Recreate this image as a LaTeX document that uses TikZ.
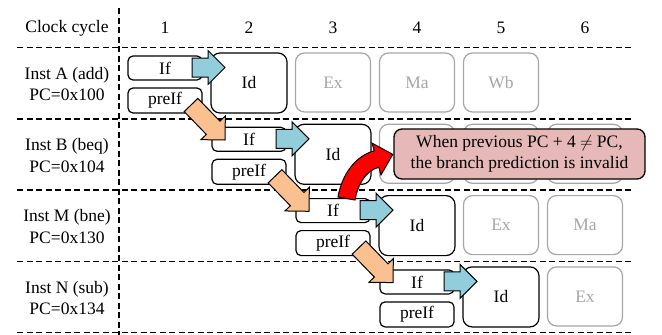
\documentclass[tikz,border=0pt]{standalone}
\usepackage{fontspec}
\setmainfont{Liberation Serif}[Ligatures=TeX]
\usetikzlibrary{calc}
\definecolor{arrblue}{HTML}{92CDDC}
\definecolor{arrorange}{HTML}{FAC090}
\definecolor{callpink}{HTML}{E6B9B8}
\definecolor{stgray}{HTML}{A6A6A6}
\newcommand\blockarrow[3]{%
  \coordinate (#2base) at ($(#3)!17pt!(#2)$);
  \draw[blk, fill=#1] ($(#2)!9.5pt!90:(#3)$) -- ($(#2base)!9.5pt!90:(#3)$)
    -- ($(#2base)!17pt!90:(#3)$) -- (#3) -- ($(#2base)!17pt!-90:(#3)$)
    -- ($(#2base)!9.5pt!-90:(#3)$) -- ($(#2)!9.5pt!-90:(#3)$) -- cycle;}
\begin{document}
\begin{tikzpicture}[x=1pt,y=-1pt, font=\rmfamily\fontsize{17.5}{21.5}\selectfont,
 grid/.style={dash pattern=on 6pt off 3.5pt, line width=1.4pt},
 smallbox/.style={draw, line width=1.2pt, rounded corners=5pt, minimum width=74pt, minimum height=24pt, inner sep=0pt, fill=white},
 idbox/.style={draw, line width=1.2pt, rounded corners=9pt, minimum width=76pt, minimum height=60pt, inner sep=0pt, fill=white},
 graybox/.style={draw=stgray, text=stgray, line width=1.2pt, rounded corners=9pt, minimum width=75pt, minimum height=59pt, inner sep=0pt, fill=white},
 blk/.style={draw, line width=1pt, line join=miter},
 notebox/.style={draw, fill=callpink, line width=1.3pt, rounded corners=8pt, minimum width=251pt, minimum height=50pt, inner sep=0pt, align=center}]
\useasboundingbox (0,0) rectangle (662,335);
% grid
\draw[grid] (119,8) -- (119,335);
\foreach \y in {47.5,118.8,190.1,261.4,332.7} \draw[grid] (17,\y) -- (632,\y);
% header
\node (hdr) at (67,28) {Clock cycle};
\foreach \k in {1,...,6} \node (c\k) at (81+84*\k, 28) {\k};
% rows
\foreach \r/\lab/\pc in {0/A (add)/100,1/B (beq)/104,2/M (bne)/130,3/N (sub)/134}{
  \pgfmathsetmacro\off{71.3*\r}
  \pgfmathsetmacro\cx{165+84*\r}
  \pgfmathsetmacro\dx{249+84*\r}
  \node[align=center] (lab\r) at (67,84+\off) {Inst \lab\\PC=0x\pc};
  \node[smallbox] (if\r) at (\cx,68+\off) {If};
  \node[smallbox, minimum height=25pt] (pre\r) at (\cx,100.5+\off) {preIf};
  \node[idbox] (id\r) at (\dx,83+\off) {Id};
}
% gray stages
\node[graybox] (exA) at (333,82.5) {Ex};
\node[graybox] (maA) at (417,82.5) {Ma};
\node[graybox] (wbA) at (501,82.5) {Wb};
\foreach \x/\n in {417/exB,501/maB,585/wbB}
  \draw[draw=stgray, line width=1.2pt, rounded corners=9pt, fill=white] (\x-37.5,124.3) rectangle (\x+37.5,183.3);
\node[graybox] (exM) at (501,225.1) {Ex};
\node[graybox] (maM) at (585,225.1) {Ma};
\node[graybox] (exN) at (585,296.4) {Ex};
% arrows
\foreach \r in {0,1,2,3}{
  \pgfmathsetmacro\off{71.3*\r}
  \coordinate (bt\r) at (192+84*\r,67.5+\off);
  \coordinate (bh\r) at (225+84*\r,67.5+\off);
  \blockarrow{arrblue}{bt\r}{bh\r}
}
\foreach \r in {0,1,2}{
  \pgfmathsetmacro\off{71.3*\r}
  \coordinate (ot\r) at (191+84*\r,105+\off);
  \coordinate (oh\r) at (225+84*\r,140+\off);
  \blockarrow{arrorange}{ot\r}{oh\r}
}
% red curved arrow
\draw[blk, fill=red] (338,197) .. controls (341.6,176.3) and (353.9,156.5) .. (374.2,150.8)
  -- (372,143.1) -- (392.8,154.4) -- (381,174.9) -- (378.8,167.2)
  .. controls (364.8,171.1) and (357.5,185.7) .. (355,200) -- cycle;
% callout
\node[notebox] (note) at (519.5,154) {When previous PC + 4 $\neq$ PC,\\the branch prediction is invalid};
\end{tikzpicture}
\end{document}
